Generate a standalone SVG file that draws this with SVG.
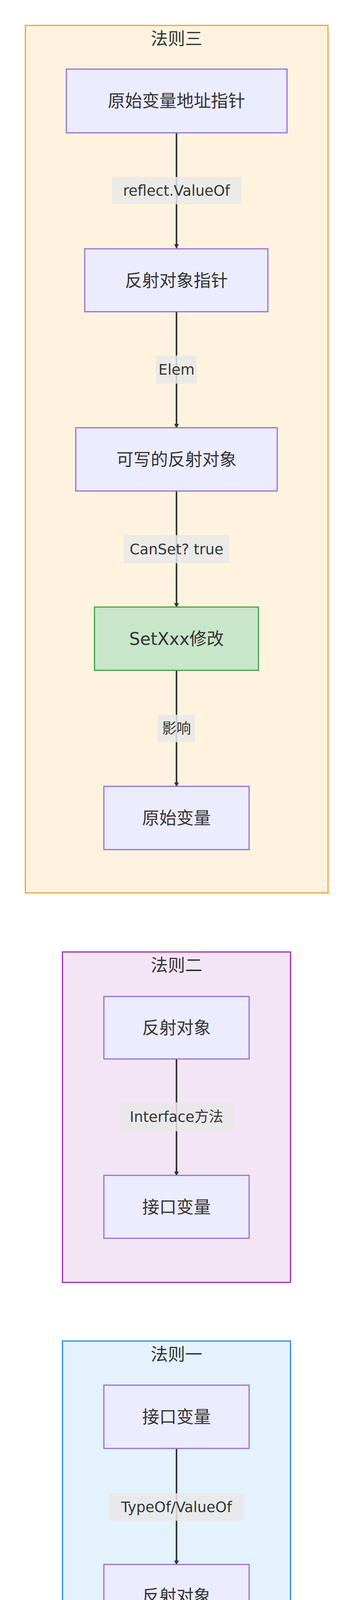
<svg xmlns="http://www.w3.org/2000/svg" width="904" height="4345" viewBox="0 0 904 4345">
<style>
text{font-family:"DejaVu Sans","Noto Sans CJK SC",sans-serif;fill:#333;text-anchor:middle;dominant-baseline:central}
.n{fill:#ECECFF;stroke:#9370DB;stroke-width:3}
.t{font-size:44px}
.l{font-size:37px}
.lb{fill:#e8e8e8;opacity:0.85}
.e{stroke:#333;stroke-width:4;fill:none;marker-end:url(#a)}
</style>
<defs><marker id="a" markerWidth="12" markerHeight="12" refX="10" refY="6" orient="auto" markerUnits="userSpaceOnUse" viewBox="0 0 12 12"><path d="M0,0L12,6L0,12z" fill="#333"/></marker></defs>
<g id="c3"><rect x="65" y="65" width="775" height="2221" fill="#fff3e0" stroke="#f5a030" stroke-width="3"/><text x="452" y="99" class="t">法则三</text></g>
<g id="c2"><rect x="160" y="2437" width="584" height="846" fill="#f3e5f5" stroke="#9c27b0" stroke-width="3"/><text x="452" y="2471" class="t">法则二</text></g>
<g id="c1"><rect x="160" y="3433" width="584" height="847" fill="#e3f2fd" stroke="#1e88e5" stroke-width="3"/><text x="452" y="3467" class="t">法则一</text></g>
<g id="edges">
<path class="e" d="M452,340V635"/><path class="e" d="M452,798V1095"/><path class="e" d="M452,1257V1554"/><path class="e" d="M452,1716V2013"/>
<path class="e" d="M452,2711V3009"/><path class="e" d="M452,3708V4005"/>
<rect class="lb" x="287" y="453" width="331" height="70"/><text x="452" y="488" class="l">reflect.ValueOf</text>
<rect class="lb" x="399" y="910" width="105" height="72"/><text x="452" y="946" class="l">Elem</text>
<rect class="lb" x="317" y="1370" width="270" height="72"/><text x="452" y="1406" class="l">CanSet? true</text>
<rect class="lb" x="404" y="1830" width="95" height="70"/><text x="452" y="1865" class="l">影响</text>
<rect class="lb" x="306" y="2822" width="292" height="74"/><text x="452" y="2859" class="l">Interface方法</text>
<rect class="lb" x="281" y="3823" width="343" height="70"/><text x="452" y="3858" class="l">TypeOf/ValueOf</text>
</g>
<g id="n1"><rect class="n" x="170" y="177" width="565" height="163"/><text x="452" y="258" class="t">原始变量地址指针</text></g>
<g id="n2"><rect class="n" x="217" y="637" width="469" height="161"/><text x="452" y="718" class="t">反射对象指针</text></g>
<g id="n3"><rect class="n" x="194" y="1095" width="516" height="162"/><text x="452" y="1176" class="t">可写的反射对象</text></g>
<g id="n4"><rect x="242" y="1554" width="420" height="162" fill="#c8e6c9" stroke="#43a047" stroke-width="3"/><text x="452" y="1635" class="t">SetXxx修改</text></g>
<g id="n5"><rect class="n" x="266" y="2013" width="372" height="162"/><text x="452" y="2094" class="t">原始变量</text></g>
<g id="n6"><rect class="n" x="266" y="2551" width="372" height="160"/><text x="452" y="2631" class="t">反射对象</text></g>
<g id="n7"><rect class="n" x="266" y="3009" width="372" height="161"/><text x="452" y="3090" class="t">接口变量</text></g>
<g id="n8"><rect class="n" x="266" y="3546" width="372" height="162"/><text x="452" y="3627" class="t">接口变量</text></g>
<g id="n9"><rect class="n" x="266" y="4005" width="372" height="162"/><text x="452" y="4086" class="t">反射对象</text></g>
<text x="740" y="4300" style="font-size:26px;fill:#555">掘金技术社区 @ H_拾忆</text>
</svg>
